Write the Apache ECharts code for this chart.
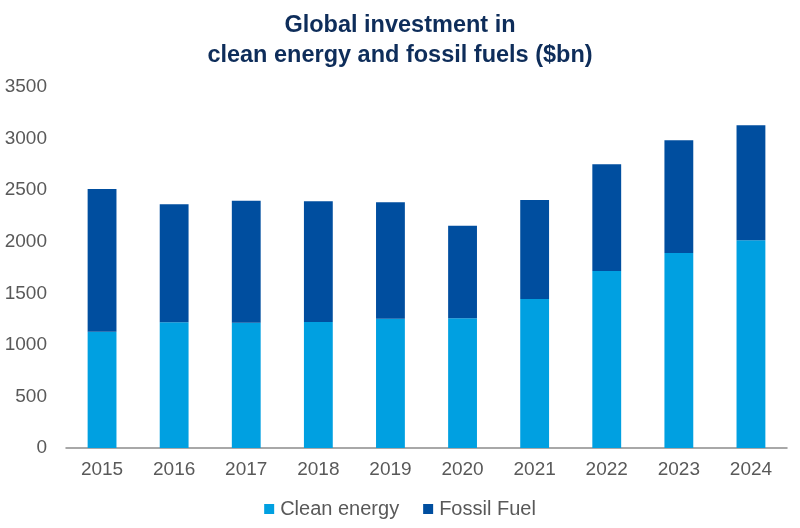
<!DOCTYPE html>
<html><head><meta charset="utf-8">
<script src="https://cdn.jsdelivr.net/npm/echarts@6/dist/echarts.min.js"></script>
<style>html,body{margin:0;padding:0;background:#fff}#c{width:800px;height:528px}</style>
</head><body><div id="c"></div>
<script>
const years = ['2015','2016','2017','2018','2019','2020','2021','2022','2023','2024'];
const cleanEnergy = [1128, 1219, 1215, 1222, 1254, 1257, 1445, 1716, 1891, 2014];
const fossilFuel = [1384, 1144, 1183, 1170, 1128, 898, 959, 1035, 1092, 1115];
const yTicks = [0, 500, 1000, 1500, 2000, 2500, 3000, 3500];

const chart = echarts.init(document.getElementById('c'), null, {renderer: 'canvas'});
chart.setOption({
  animation: false,
  title: {
    text: 'Global investment in\nclean energy and fossil fuels ($bn)',
    left: 'center', top: 6,
    textStyle: {fontFamily: 'Liberation Sans, Arial', fontWeight: 'bold', fontSize: 23.5, color: '#0E2D5A', lineHeight: 30}
  },
  legend: {
    bottom: 4, left: 'center', itemWidth: 10, itemHeight: 10, itemGap: 24,
    icon: 'rect',
    textStyle: {fontFamily: 'Liberation Sans, Arial', fontSize: 20, color: '#595959', padding: [0, 0, 0, 1]},
    data: ['Clean energy', 'Fossil Fuel']
  },
  grid: {left: 66, right: 13, top: 87, bottom: 80},
  xAxis: {
    type: 'category', data: years,
    axisLine: {lineStyle: {color: '#8c8c8c', width: 1.5}},
    axisTick: {show: false},
    axisLabel: {fontFamily: 'Liberation Sans, Arial', fontSize: 19, color: '#595959', margin: 12}
  },
  yAxis: {
    type: 'value', min: yTicks[0], max: yTicks[yTicks.length-1], interval: 500,
    splitLine: {show: false},
    axisLine: {show: false}, axisTick: {show: false},
    axisLabel: {fontFamily: 'Liberation Sans, Arial', fontSize: 19, color: '#595959', margin: 19, formatter: v => String(v)}
  },
  series: [
    {name: 'Clean energy', type: 'bar', stack: 't', data: cleanEnergy, barWidth: '40%', itemStyle: {color: '#00A0E1'}},
    {name: 'Fossil Fuel', type: 'bar', stack: 't', data: fossilFuel, barWidth: '40%', itemStyle: {color: '#004E9F'}}
  ]
});
</script></body></html>
